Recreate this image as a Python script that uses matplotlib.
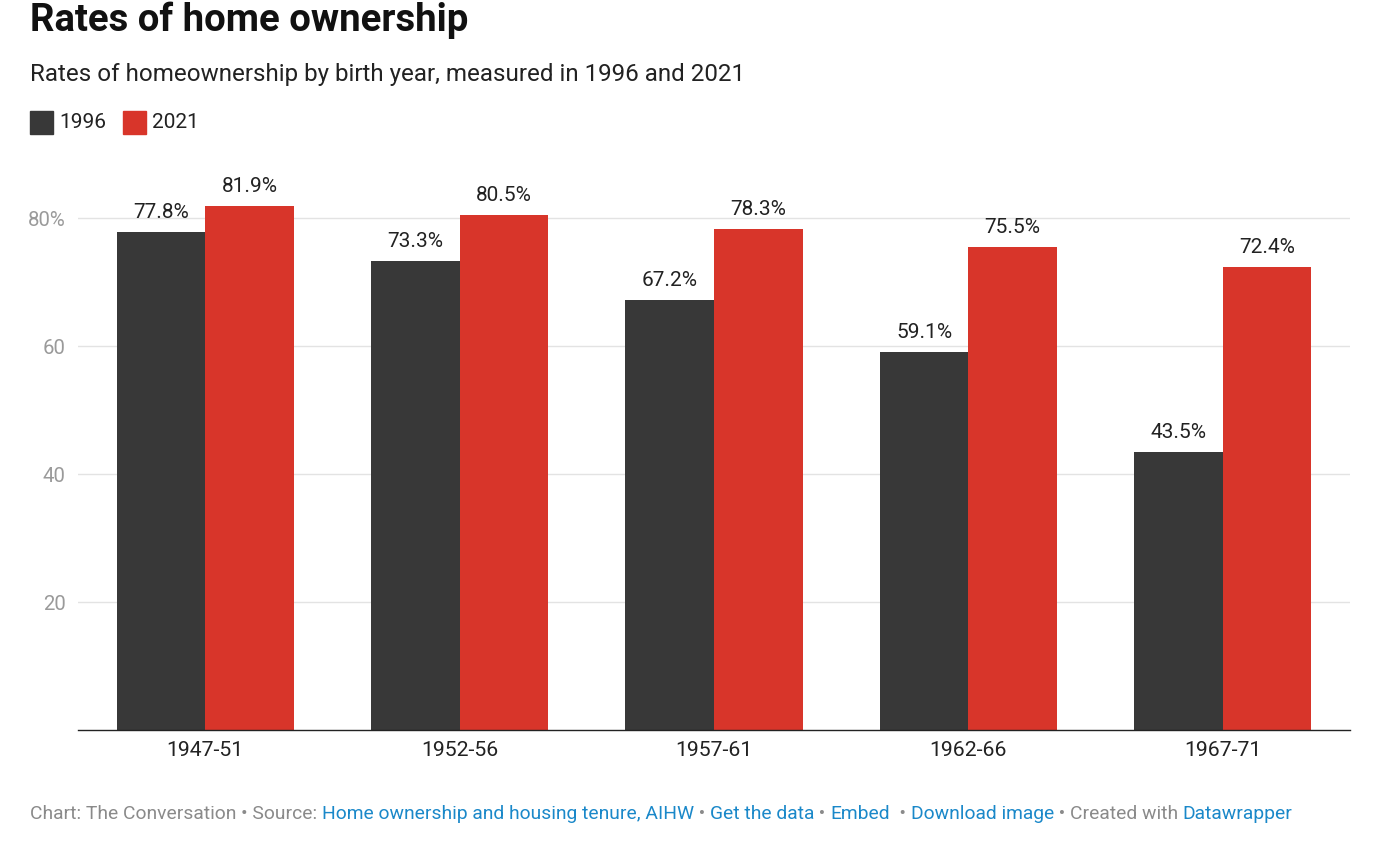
import numpy as np
import matplotlib
matplotlib.use('Agg')
from matplotlib import pyplot as plt

plt.rcParams['font.family'] = ['Roboto', 'DejaVu Sans']

# Data
cohorts = ['1947-51', '1952-56', '1957-61', '1962-66', '1967-71']
rate_1996 = [77.8, 73.3, 67.2, 59.1, 43.5]
rate_2021 = [81.9, 80.5, 78.3, 75.5, 72.4]
series_names = ['1996', '2021']
y_ticks = [20, 40, 60, 80]
y_tick_labels = ['20', '40', '60', '80%']

dark = '#383838'
red = '#d8352a'
W, H = 1387, 859

fig = plt.figure(figsize=(W / 100, H / 100), dpi=100)
# axes: left 78px, right 1350px, baseline 730px, 6.4 px per unit
ymax = 85
ax = fig.add_axes([78 / W, (H - 730) / H, (1350 - 78) / W, ymax * 6.4 / H])

x = np.arange(len(cohorts))
w = 0.348
ax.bar(x - w / 2, rate_1996, width=w, color=dark, zorder=3)
ax.bar(x + w / 2, rate_2021, width=w, color=red, zorder=3)

for xi, v in zip(x - w / 2, rate_1996):
    ax.annotate(f'{v}%', (xi, v), xytext=(0, 7), textcoords='offset points',
                ha='center', va='bottom', fontsize=15, color='#222222')
for xi, v in zip(x + w / 2, rate_2021):
    ax.annotate(f'{v}%', (xi, v), xytext=(0, 7), textcoords='offset points',
                ha='center', va='bottom', fontsize=15, color='#222222')

ax.set_xlim(-0.5, len(cohorts) - 0.5)
ax.set_ylim(0, ymax)
ax.set_yticks(y_ticks)
ax.set_yticklabels(y_tick_labels, fontsize=14.7, color='#9a9a9a')
ax.set_xticks(x)
ax.set_xticklabels(cohorts, fontsize=15.3, color='#222222')
ax.tick_params(axis='both', length=0)
ax.tick_params(axis='y', pad=9)
ax.tick_params(axis='x', pad=8)
ax.grid(axis='y', color='#e3e3e3', linewidth=1, zorder=0)
for s in ['top', 'right', 'left']:
    ax.spines[s].set_visible(False)
ax.spines['bottom'].set_color('#222222')
ax.spines['bottom'].set_linewidth(1)
ax.spines['bottom'].set_zorder(4)

# Title, subtitle
fig.text(30 / W, 1 - 20 / H, 'Rates of home ownership', fontsize=27.6, fontweight='bold',
         color='#111111', va='center', ha='left')
fig.text(30 / W, 1 - 74 / H, 'Rates of homeownership by birth year, measured in 1996 and 2021',
         fontsize=17.4, color='#222222', va='center', ha='left')

# Legend
for (lx, tx), name, c in zip([(30, 59), (123, 152)], series_names, [dark, red]):
    fig.patches.append(plt.Rectangle((lx / W, 1 - 134 / H), 23 / W, 23 / H,
                                     transform=fig.transFigure, color=c))
    fig.text(tx / W, 1 - 122 / H, name, fontsize=15, color='#222222', va='center', ha='left')

# Footer with mixed colours
footer = [('Chart: The Conversation • Source: ', '#8a8a8a'),
          ('Home ownership and housing tenure, AIHW', '#1a88c9'),
          (' • ', '#8a8a8a'),
          ('Get the data', '#1a88c9'),
          (' • ', '#8a8a8a'),
          ('Embed', '#1a88c9'),
          ('  • ', '#8a8a8a'),
          ('Download image', '#1a88c9'),
          (' • Created with ', '#8a8a8a'),
          ('Datawrapper', '#1a88c9')]
fig.canvas.draw()
renderer = fig.canvas.get_renderer()
xpos = 30
for txt, c in footer:
    t = fig.text(xpos / W, 1 - 814 / H, txt, fontsize=13.9, color=c, va='center', ha='left')
    bb = t.get_window_extent(renderer=renderer)
    xpos += bb.width

fig.savefig('out.png', dpi=100)
